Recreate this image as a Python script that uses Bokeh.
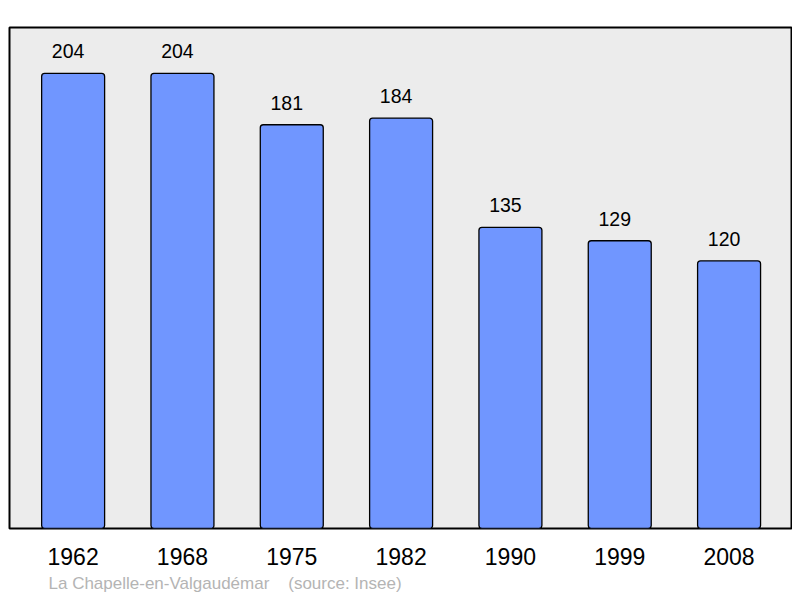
from bokeh.plotting import figure
from bokeh.models import Range1d, FixedTicker, Title, ColumnDataSource
from bokeh.core.properties import value
from bokeh.embed import file_html
from bokeh.resources import INLINE

years = ["1962", "1968", "1975", "1982", "1990", "1999", "2008"]
population = [204, 204, 181, 184, 135, 129, 120]
footer_text = "La Chapelle-en-Valgaudémar\u00a0\u00a0\u00a0\u00a0(source: Insee)"

xs = list(range(len(years)))
src = ColumnDataSource(dict(x=xs, y=population, lab=[str(v) for v in population]))

p = figure(width=792, height=596, output_backend="svg", toolbar_location=None,
           x_range=Range1d(-0.582, 6.571), y_range=Range1d(0, 224.6),
           min_border_left=9, min_border_right=1, min_border_top=27, min_border_bottom=68)
p.background_fill_color = "#ececec"
p.border_fill_color = "white"
p.outline_line_color = "black"
p.outline_line_width = 2
p.xgrid.visible = False
p.ygrid.visible = False
p.yaxis.visible = False

p.vbar(x="x", top="y", width=0.576, bottom=0, source=src,
       fill_color="#7096ff", line_color="black", line_width=1.3, border_radius=3)

p.text(x="x", y="y", text="lab", source=src, text_align="center",
       text_baseline="alphabetic", y_offset=-22, x_offset=-5,
       text_font=value("Liberation Sans"), text_font_size="19.5px", text_color="black")

ax = p.xaxis[0]
ax.ticker = FixedTicker(ticks=xs)
ax.major_label_overrides = {i: y for i, y in zip(xs, years)}
ax.axis_line_color = None
ax.major_tick_line_color = None
ax.minor_tick_line_color = None
ax.major_tick_out = 0
ax.major_label_standoff = 19
ax.major_label_text_font = "Liberation Sans"
ax.major_label_text_font_size = "23px"
ax.major_label_text_color = "black"

t = Title(text=footer_text, align="left", offset=39, text_font="Liberation Sans",
          text_font_size="17px", text_font_style="normal", text_color="#b4b4b4", standoff=8)
p.add_layout(t, "below")

open("out.html", "w").write(file_html(p, INLINE))
